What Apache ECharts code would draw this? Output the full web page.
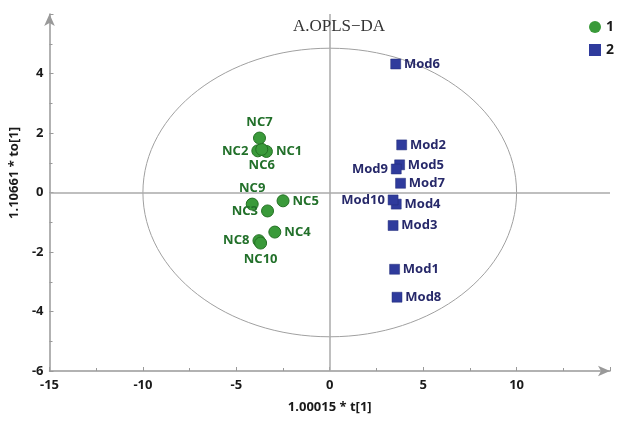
<!DOCTYPE html>
<html>
<head>
<meta charset="utf-8">
<script src="https://cdn.jsdelivr.net/npm/echarts@6/dist/echarts.min.js"></script>
<style>html,body{margin:0;padding:0;background:#fff}#c{width:617px;height:427px}</style>
</head>
<body>
<div id="c"></div>
<script>
// ---- data ----
var ncNames = ['NC1','NC2','NC3','NC4','NC5','NC6','NC7','NC8','NC9','NC10'];
var ncX = [-3.39, -3.85, -3.33, -2.94, -2.50, -3.64, -3.76, -3.79, -4.15, -3.70];
var ncY = [ 1.38,  1.40, -0.62, -1.33, -0.28,  1.45,  1.83, -1.62, -0.39, -1.70];
var modNames = ['Mod1','Mod2','Mod3','Mod4','Mod5','Mod6','Mod7','Mod8','Mod9','Mod10'];
var modX = [3.47, 3.85, 3.39, 3.56, 3.74, 3.53, 3.79, 3.60, 3.56, 3.39];
var modY = [-2.58, 1.60, -1.11, -0.39, 0.93, 4.32, 0.31, -3.52, 0.79, -0.25];
var xTicks = [-15, -10, -5, 0, 5, 10];
var yTicks = [-6, -4, -2, 0, 2, 4];
var ellipse = [0, 0, 10, 4.85]; // center x, center y, semi-axis x, semi-axis y

// label placement (style)
var labelPos = {
  NC1:'right', NC2:'left', NC3:'left', NC4:'right', NC5:'right', NC6:'bottom',
  NC7:'top', NC8:'left', NC9:'top', NC10:'bottom',
  Mod9:'left', Mod10:'left'
};

function build(names, xs, ys) {
  return names.map(function (n, i) {
    return { name: n, value: [xs[i], ys[i]], label: { position: labelPos[n] || 'right' } };
  });
}

var chart = echarts.init(document.getElementById('c'));
var axisLabelStyle = { color: '#1a1a1a', fontWeight: 'bold', fontSize: 13, fontFamily: 'Noto Sans' };

chart.setOption({
  animation: false,
  title: {
    text: 'A.OPLS\u2212DA', left: 334, top: 13, textAlign: 'center',
    textStyle: { fontFamily: 'Liberation Serif', fontWeight: 'normal', fontSize: 17, color: '#333' }
  },
  legend: {
    orient: 'vertical', left: 584, top: 15, itemWidth: 12, itemHeight: 12, itemGap: 9,
    textStyle: { fontWeight: 'bold', fontSize: 14, color: '#1a1a1a', fontFamily: 'Noto Sans' },
    data: [
      { name: '1', icon: 'circle', itemStyle: { borderWidth: 0 } },
      { name: '2', icon: 'rect', itemStyle: { borderWidth: 0 } }
    ]
  },
  grid: { left: 46, right: 7, top: 14, bottom: 56 },
  xAxis: {
    type: 'value', min: -15, max: 15, interval: 5,
    name: '1.00015 * t[1]', nameLocation: 'middle', nameGap: 30,
    nameTextStyle: { fontWeight: 'bold', fontSize: 13, color: '#1a1a1a', fontFamily: 'Noto Sans' },
    axisLine: { onZero: false, symbol: ['none', 'arrow'], symbolSize: [8, 12], lineStyle: { color: '#999', width: 1.5 } },
    axisTick: { inside: true, length: 4, lineStyle: { color: '#999' } },
    minorTick: { show: true, splitNumber: 2, length: 3, lineStyle: { color: '#999' } },
    splitLine: { show: false },
    axisLabel: Object.assign({ margin: 8, formatter: function (v) { return xTicks.indexOf(v) >= 0 ? String(v) : ''; } }, axisLabelStyle)
  },
  yAxis: {
    type: 'value', min: -6, max: 6, interval: 2,
    name: '1.10661 * to[1]', nameLocation: 'middle', nameGap: 19, nameRotate: 90,
    nameTextStyle: { fontWeight: 'bold', fontSize: 13, color: '#1a1a1a', fontFamily: 'Noto Sans', padding: [0, 0, 0, 39] },
    axisLine: { onZero: false, symbol: ['none', 'arrow'], symbolSize: [8, 12], lineStyle: { color: '#999', width: 1.5 } },
    axisTick: { inside: true, length: 4, lineStyle: { color: '#999' } },
    minorTick: { show: true, splitNumber: 2, length: 3, lineStyle: { color: '#999' } },
    splitLine: { show: false },
    axisLabel: Object.assign({ margin: 6, formatter: function (v) { return yTicks.indexOf(v) >= 0 ? String(v) : ''; } }, axisLabelStyle)
  },
  series: [
    {
      type: 'custom', name: 'ellipse', silent: true, z: 1,
      data: [ellipse],
      renderItem: function (params, api) {
        var c = api.coord([api.value(0), api.value(1)]);
        var s = api.size([api.value(2), api.value(3)]);
        return {
          type: 'ellipse',
          shape: { cx: c[0], cy: c[1], rx: s[0], ry: s[1] },
          style: { fill: 'none', stroke: '#a0a0a0', lineWidth: 1 }
        };
      }
    },
    {
      type: 'scatter', name: '1', symbol: 'circle', symbolSize: 12, z: 3,
      itemStyle: { color: '#3a9a3a', borderColor: '#237023', borderWidth: 1, opacity: 1 },
      label: { show: true, formatter: '{b}', color: '#22702a', fontWeight: 'bold', fontSize: 13, fontFamily: 'Noto Sans', distance: 3, opacity: 1 },
      data: build(ncNames, ncX, ncY),
      markLine: {
        silent: true, symbol: 'none', label: { show: false },
        lineStyle: { color: '#aaa', width: 1.5, type: 'solid', opacity: 1 },
        data: [{ xAxis: 0 }, { yAxis: 0 }]
      }
    },
    {
      type: 'scatter', name: '2', symbol: 'rect', symbolSize: 10, z: 3,
      itemStyle: { color: '#2f3b9c', borderColor: '#222c78', borderWidth: 0.5, opacity: 1 },
      label: { show: true, formatter: '{b}', color: '#27296a', fontWeight: 'bold', fontSize: 13, fontFamily: 'Noto Sans', distance: 3, opacity: 1 },
      data: build(modNames, modX, modY)
    }
  ]
});
</script>
</body>
</html>
